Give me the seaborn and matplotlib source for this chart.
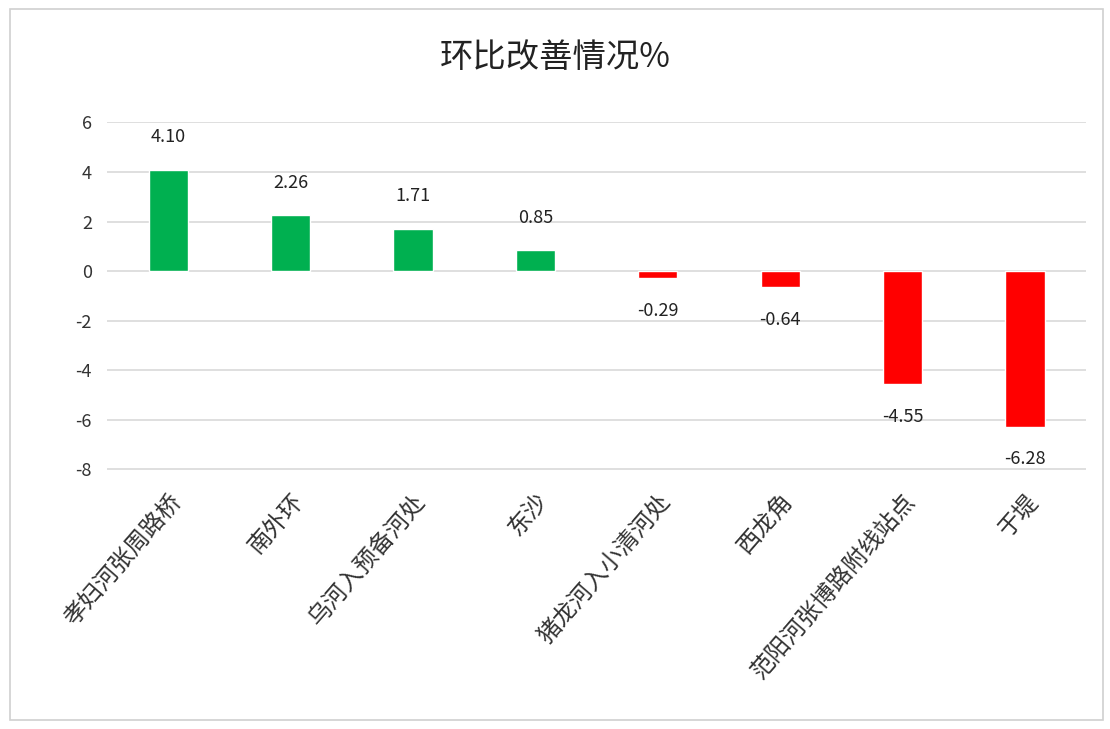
import numpy as np
import pandas as pd
import seaborn as sns
import matplotlib.pyplot as plt
from matplotlib.patches import Rectangle

sites = ['孝妇河张周路桥', '南外环', '乌河入预备河处', '东沙',
         '猪龙河入小清河处', '西龙角', '范阳河张博路附线站点', '于堤']
change = [4.10, 2.26, 1.71, 0.85, -0.29, -0.64, -4.55, -6.28]
yticks = [6, 4, 2, 0, -2, -4, -6, -8]

df = pd.DataFrame({'site': sites, 'change': change})
df['sign'] = np.where(df['change'] >= 0, 'up', 'down')

sns.set_theme(style='white')
plt.rcParams['font.family'] = ['Noto Sans CJK SC', 'DejaVu Sans']

fig = plt.figure(figsize=(11.1, 7.29), dpi=100)
ax = fig.add_axes([0.0965, 0.355, 0.882, 0.478])

# outer frame like the original screenshot
fig.patches.append(Rectangle((0.009, 0.012), 0.985, 0.976, transform=fig.transFigure,
                             fill=False, edgecolor='#d0d0d0', linewidth=1.2))

sns.barplot(data=df, x='site', y='change', hue='sign',
            palette={'up': '#00B050', 'down': '#FF0000'},
            width=0.32, dodge=False, legend=False, ax=ax, saturation=1)

ax.set_ylim(-8.03, 6.03)
ax.set_yticks(yticks)
ax.set_yticklabels([str(t) for t in yticks], fontsize=13, color='#333333')
ax.yaxis.grid(True, color='#d9d9d9', linewidth=1.2)
ax.set_axisbelow(True)
for s in ax.spines.values():
    s.set_visible(False)
ax.tick_params(axis='both', length=0)
ax.tick_params(axis='y', pad=11)
ax.set_xlabel('')
ax.set_ylabel('')
ax.set_xticks(range(len(sites)))
ax.set_xticklabels(sites, rotation=49, ha='right', rotation_mode='anchor',
                   fontsize=17, color='#333333')
ax.tick_params(axis='x', pad=14)

for i, v in enumerate(change):
    if v >= 0:
        ax.text(i, v + 0.95, f'{v:.2f}', ha='center', va='bottom', fontsize=13, color='#222222')
    else:
        ax.text(i, v - 0.95, f'{v:.2f}', ha='center', va='top', fontsize=13, color='#222222')

fig.suptitle('环比改善情况%', y=0.945, fontsize=24, color='#222222')

fig.savefig('out.png', dpi=100)
